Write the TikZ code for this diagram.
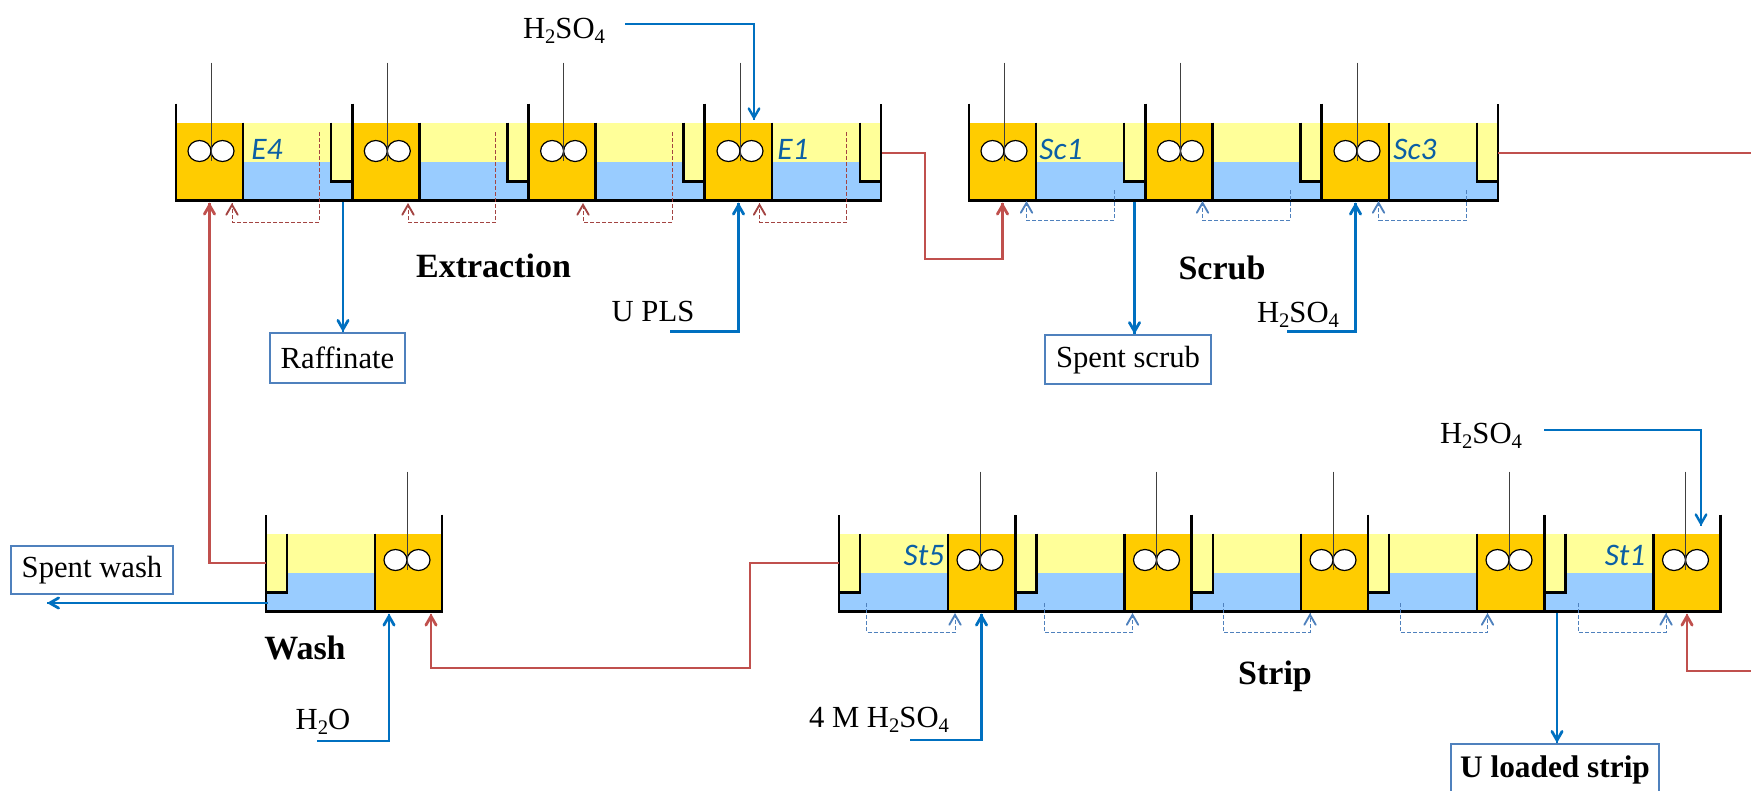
\documentclass[tikz,border=0pt]{standalone}
\usepackage{fontspec}
\setmainfont{Liberation Serif}
\newfontfamily\stagefont{Carlito}
\usepackage{tikz}
\usetikzlibrary{arrows,calc,decorations.markings}

\definecolor{mixcol}{HTML}{FFCC00}
\definecolor{oilcol}{HTML}{FFFF99}
\definecolor{aqcol}{HTML}{99CCFF}
\definecolor{redcol}{HTML}{C0504D}
\definecolor{bluecol}{HTML}{0070C0}
\definecolor{boxcol}{HTML}{4F81BD}
\definecolor{tagcol}{HTML}{0B5FA5}

\newcommand{\lowsub}[1]{\raisebox{-.35ex}{\fontsize{15.5}{15.5}\selectfont #1}}

\tikzset{
  mixer/.style={fill=mixcol,minimum width=50.25pt,minimum height=58.5pt,inner sep=0pt,outer sep=1.5pt},
  wall/.style={line width=2pt},
  shaft/.style={line width=.7pt,black!75},
  blade/.style={draw=black,fill=white,line width=.9pt},
  redflow/.style={redcol,line width=1.9pt,
    decoration={markings,mark=at position 1 with {\arrow[scale=1.1]{angle 60}}},
    postaction={decorate}},
  blueflow/.style={bluecol,line width=1.9pt,
    decoration={markings,mark=at position 1 with {\arrow[scale=1.1]{angle 60}}},
    postaction={decorate}},
  feedflow/.style={bluecol,line width=1.3pt,
    decoration={markings,mark=at position 1 with {\arrow[scale=1.4]{angle 60}}},
    postaction={decorate}},
  reddash/.style={redcol!85!black,line width=.7pt,dash pattern=on 3pt off 1.5pt,
    decoration={markings,mark=at position 1 with {\arrow[solid,scale=2]{angle 60}}},
    postaction={decorate}},
  bluedash/.style={boxcol,line width=.7pt,dash pattern=on 3pt off 1.5pt,
    decoration={markings,mark=at position 1 with {\arrow[solid,scale=2]{angle 60}}},
    postaction={decorate}},
  outbox/.style={draw=boxcol,line width=1.5pt,fill=white,inner sep=0pt,font=\fontsize{23}{23}\selectfont},
  tag/.style={inner sep=0pt,text=tagcol,font=\stagefont\itshape\fontsize{23.5}{23.5}\selectfont},
  chem/.style={inner sep=0pt,font=\fontsize{23}{23}\selectfont},
  section/.style={inner sep=0pt,font=\bfseries\fontsize{25.5}{25.5}\selectfont}
}

% name, x of the wall on the mixer side, y of the floor, side, height of the stirrer
\newcommand{\stage}[5]{
  \begin{scope}[shift={(#2,#3)},xscale=#4]
    \fill[oilcol] (67,-78) rectangle (176,-39);
    \fill[aqcol] (67,-39) rectangle (176,0);
    \fill[oilcol] (155,-78) rectangle (176,-19);
    \node[mixer] (#1) at (33.5,-39) {};
    \draw[wall] (155,-78) -- (155,-19) -- (176,-19);
    \draw[wall] (67,-78) -- (67,0);
    \draw[wall] (0,-97) -- (0,0) -- (176,0) -- (176,-97);
    \draw[shaft] (35,-138-#5) -- (35,-40-#5);
    \draw[blade] (23.5,-49.5-#5) ellipse (11.5 and 10.5);
    \draw[blade] (46.5,-49.5-#5) ellipse (11.5 and 10.5);
    \draw[shaft] (35,-60-#5) -- (35,-40-#5);
  \end{scope}
}

% name, start of the dashed line, its corner, style
\newcommand{\recycle}[4]{
  \coordinate (#1tail) at (#2);
  \coordinate (#1bend) at (#3);
  \coordinate (#1tip) at ($(#1bend)+(0,-19)$);
  \draw[#4] (#1tail) |- (#1bend) -- (#1tip);
}

\begin{document}
\begin{tikzpicture}[x=0.75pt,y=-0.75pt]
\useasboundingbox (0,0) rectangle (1751,790);
\clip (0,0) rectangle (1751,790);
%\draw[help lines,step=100] (0,0) grid (1751,790);

\stage{E4}{176}{200.5}{1}{0}
\stage{E3}{352.3}{200.5}{1}{0}
\stage{E2}{528.6}{200.5}{1}{0}
\stage{E1}{705}{200.5}{1}{0}

\stage{Sc1}{969}{200.5}{1}{0}
\stage{Sc2}{1145.5}{200.5}{1}{0}
\stage{Sc3}{1322}{200.5}{1}{0}

\stage{W}{442}{611.5}{-1}{2}

\stage{St5}{1015}{611.5}{-1}{2}
\stage{St4}{1191.5}{611.5}{-1}{2}
\stage{St3}{1368}{611.5}{-1}{2}
\stage{St2}{1544}{611.5}{-1}{2}
\stage{St1}{1720.5}{611.5}{-1}{2}

\recycle{E4}{319,132}{232,222}{reddash}
\recycle{E3}{495.5,132}{408,222}{reddash}
\recycle{E2}{672,132}{583,222}{reddash}
\recycle{E1}{846.5,132}{759.5,222}{reddash}

\recycle{Sc1}{1114,190}{1026.5,220}{bluedash}
\recycle{Sc2}{1290,190}{1202.5,220}{bluedash}
\recycle{Sc3}{1466.5,190}{1378.5,220}{bluedash}

\recycle{St5}{866.5,603}{955,632}{bluedash}
\recycle{St4}{1044,603}{1132.5,632}{bluedash}
\recycle{St3}{1223,603}{1310,632}{bluedash}
\recycle{St2}{1400,603}{1487.5,632}{bluedash}
\recycle{St1}{1578,603}{1666,632}{bluedash}

\node[tag] (tagE4) at (267,149) {E4};
\node[tag] (tagE1) at (793,149) {E1};
\node[tag] (tagSc1) at (1061,149) {Sc1};
\node[tag] (tagSc3) at (1415,149) {Sc3};
\node[tag] (tagSt5) at (924,555) {St5};
\node[tag] (tagSt1) at (1625,555) {St1};

\node[section] (extraction) at (493.5,266) {Extraction};
\node[section] (scrub) at (1222,268) {Scrub};
\node[section] (wash) at (305,648) {Wash};
\node[section] (strip) at (1275,676) {Strip};

\node[chem] (acidE) at (564,31) {H\lowsub{2}SO\lowsub{4}};
\node[chem] (pls) at (653,311) {U PLS};
\node[chem] (acidSc) at (1298,315) {H\lowsub{2}SO\lowsub{4}};
\node[chem] (water) at (323,722) {H\lowsub{2}O};
\node[chem] (acidFour) at (879,720) {4 M H\lowsub{2}SO\lowsub{4}};
\node[chem] (acidSt) at (1481,436) {H\lowsub{2}SO\lowsub{4}};

\node[outbox,minimum width=101pt,minimum height=37.5pt] (raffinate) at (337.5,358) {Raffinate};
\node[outbox,minimum width=124.5pt,minimum height=36.5pt,text height=17pt] (spentscrub) at (1128,359.5) {Spent scrub};
\node[outbox,minimum width=121.5pt,minimum height=36pt] (spentwash) at (92,570) {Spent wash};
\node[outbox,minimum width=156pt,minimum height=39pt,font=\bfseries\fontsize{23.5}{23.5}\selectfont] (uloaded) at (1555,770) {U loaded strip};

\coordinate (E1out) at (882,153);
\coordinate (bendE) at (925,259);
\coordinate (Sc3out) at (1498,153);
\coordinate (redright) at (1751,153);
\coordinate (redback) at (1751,671);
\coordinate (Wout) at (266,563);
\coordinate (St5out) at (839,563);
\coordinate (bendSt) at (750,668);
\coordinate (Wredin) at (431,613.5);

\coordinate (E4aq) at (343,202);
\coordinate (Sc1aq) at (1134.5,202);
\coordinate (St1aq) at (1557,613);
\coordinate (Waq) at (268,603);
\coordinate (washend) at (47,603);
\coordinate (acidEstart) at (625,24);
\coordinate (acidEend) at (754,120);
\coordinate (plsstart) at (670,331.5);
\coordinate (acidScstart) at (1287,331.5);
\coordinate (waterstart) at (317,741);
\coordinate (Wbluein) at (389,613.5);
\coordinate (fourstart) at (910,740);
\coordinate (acidStstart) at (1544,430);
\coordinate (acidStend) at (1701,526);

\draw[redflow] (E1out) -| (bendE) -| (Sc1.south);
\draw[redcol,line width=1.9pt] (Sc3out) -- (redright);
\draw[redflow] (redback) -| (St1.south);
\draw[redflow] (Wout) -| (E4.south);
\draw[redflow] (St5out) -| (bendSt) -| (Wredin);

\draw[blueflow] (E4aq) -- (E4aq |- raffinate.north);
\draw[blueflow] (Sc1aq) -- (Sc1aq |- spentscrub.north);
\draw[blueflow] (St1aq) -- (St1aq |- uloaded.north);
\draw[blueflow] (Waq) -- (washend);
\draw[blueflow] (plsstart) -| (E1.south);
\draw[blueflow] (acidScstart) -| (Sc3.south);
\draw[blueflow] (waterstart) -| (Wbluein);
\draw[blueflow] (fourstart) -| (St5.south);
\draw[feedflow] (acidEstart) -| (acidEend);
\draw[feedflow] (acidStstart) -| (acidStend);
\end{tikzpicture}
\end{document}
